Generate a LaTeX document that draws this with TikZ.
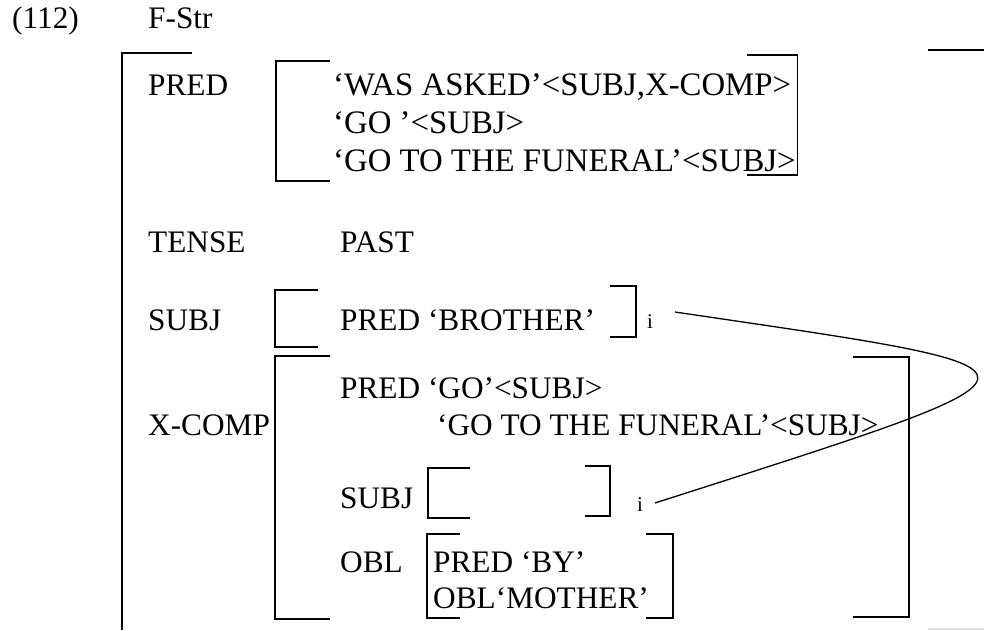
\documentclass[tikz,border=0pt]{standalone}
\usepackage{fontspec}
\setmainfont{Liberation Serif}
\begin{document}
\begin{tikzpicture}[x=1pt,y=-1pt,
  lbl/.style={anchor=base west,inner sep=0pt,font=\fontsize{31.3}{37}\selectfont},
  wide/.style={lbl,font=\fontsize{32.8}{38}\selectfont},
  idx/.style={anchor=base west,inner sep=0pt,font=\fontsize{21}{23}\selectfont},
  brk/.style={line width=1.6pt,line cap=butt,line join=miter},
  link/.style={line width=1.3pt}]
\useasboundingbox (0,0) rectangle (984,630);

% heading
\node[lbl] (num)  at (12,28)  {(112)};
\node[lbl] (fstr) at (148,28) {F-Str};

% outer f-structure brackets
\draw[brk] (192,53) -- (121.7,53) -- (121.7,630);
\draw[brk] (928,50) -- (986,50);
\draw[line width=1.2pt,gray!25] (928,629) -- (984,629);

% PRED
\node[lbl]  (pred) at (148,95) {PRED};
\node[wide] (p1) at (333,95)  {‘WAS ASKED’<SUBJ,X-COMP>};
\node[wide] (p2) at (333,133) {‘GO ’<SUBJ>};
\node[wide] (p3) at (333,171) {‘GO TO THE FUNERAL’<SUBJ>};
\draw[brk] (330,61) -- (276,61) -- (276,181) -- (330,181);
\draw[brk] (747,55) -- (797.5,55) -- (797.5,175) -- (747,175);

% TENSE
\node[lbl] (tense) at (148,252) {TENSE};
\node[lbl] (past)  at (340,252) {PAST};

% SUBJ
\node[lbl] (subj) at (148,330) {SUBJ};
\node[lbl] (bro)  at (340,330) {PRED ‘BROTHER’};
\node[idx] (i1)   at (647,328) {i};
\draw[brk] (318,290) -- (275,290) -- (275,347) -- (318,347);
\draw[brk] (610,286) -- (636,286) -- (636,337) -- (610,337);

% X-COMP
\node[lbl] (xcomp) at (148,435) {X-COMP};
\node[lbl] (xp1) at (340,398) {PRED ‘GO’<SUBJ>};
\node[lbl] (xp2) at (437,435) {‘GO TO THE FUNERAL’<SUBJ>};
\draw[brk] (330,356) -- (275,356) -- (275,619) -- (330,619);
\draw[brk] (853,357) -- (909,357) -- (909,617) -- (853,617);

% X-COMP SUBJ
\node[lbl] (xsubj) at (340,508) {SUBJ};
\node[idx] (i2)    at (637,511) {i};
\draw[brk] (470,468) -- (428,468) -- (428,518) -- (470,518);
\draw[brk] (585,466) -- (610,466) -- (610,516) -- (585,516);

% X-COMP OBL
\node[lbl] (obl) at (340,572) {OBL};
\node[lbl] (o1)  at (433,572) {PRED ‘BY’};
\node[lbl] (o2)  at (433,608) {OBL‘MOTHER’};
\draw[brk] (460,534) -- (427,534) -- (427,618) -- (460,618);
\draw[brk] (646,534) -- (673,534) -- (673,618) -- (646,618);

% co-indexing line between the two SUBJ values
\coordinate (c1) at (675,312);
\coordinate (c2) at (655,503);
\draw[link] (c1) .. controls (1082,372) and (1082,366) .. (c2);
\end{tikzpicture}
\end{document}
